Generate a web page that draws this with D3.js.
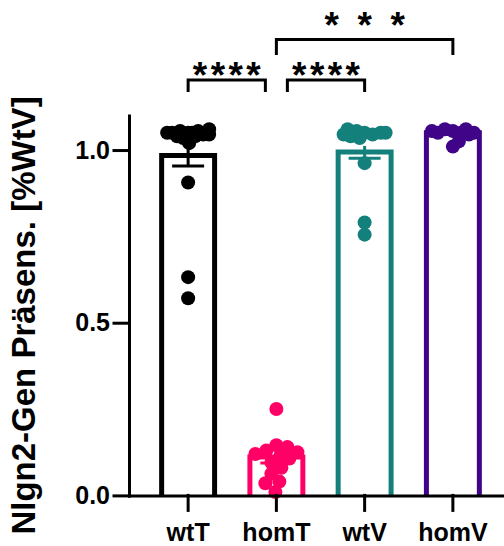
<!DOCTYPE html>
<html>
<head>
<meta charset="utf-8">
<script src="https://cdn.jsdelivr.net/npm/d3@7"></script>
<style>
  body { margin: 0; background: #fff; }
  text { font-family: "Liberation Sans", Arial, sans-serif; font-weight: bold; }
</style>
</head>
<body>
<svg id="chart"></svg>
<script>
// values
const groups = ['wtT', 'homT', 'wtV', 'homV']
const colors = ['#000000', '#FF0066', '#13807C', '#3F0487']

const wtT = [1.05, 1.04, 1.055, 1.045, 1.05, 1.06, 1.035, 1.05, 1.045, 1.055, 1.04, 1.05, 1.02, 0.906, 0.632, 0.571]
const homT = [0.25, 0.145, 0.14, 0.13, 0.125, 0.12, 0.115, 0.107, 0.095, 0.08, 0.063, 0.04, 0.035, 0.01]
const wtV = [1.05, 1.045, 1.055, 1.04, 1.05, 1.06, 1.045, 1.05, 1.035, 0.962, 0.79, 0.755]
const homV = [1.055, 1.05, 1.06, 1.05, 1.045, 1.055, 1.05, 1.06, 1.01, 1.025]

const means = [0.984, 0.111, 0.994, 1.05]
const sems = [0.03, 0.017, 0.018, 0.005]

const yTicks = [0, 0.5, 1.0]

const sigPairs = [['wtT', 'homT'], ['homT', 'wtV'], ['homT', 'homV']]
const sigLabels = ['****', '****', '***']
const sigLevels = [0, 0, 1]

const points = [wtT, homT, wtV, homV]

let W = 504, H = 546
let svg = d3.select('#chart').attr('width', W).attr('height', H)
    .style('background', '#fff')

let x = d3.scaleBand().domain(groups).range([129, 512]).paddingInner(0.4).paddingOuter(0.37)
let y = d3.scaleLinear().domain([0, 1.1]).range([495.4, 115.5])

// bars (open at the bottom, sitting on the axis)
groups.forEach((g, i) => {
    let x0 = x(g), x1 = x(g) + x.bandwidth()
    svg.append('path')
        .attr('d', `M${x0},${y(0)}V${y(means[i])}H${x1}V${y(0)}`)
        .attr('fill', 'none')
        .attr('stroke', colors[i])
        .attr('stroke-width', 5)
})

// error bars, cap only on the lower end
groups.forEach((g, i) => {
    let cx = x(g) + x.bandwidth() / 2
    let lo = y(means[i] - sems[i]), hi = y(means[i] + sems[i])
    svg.append('line')
        .attr('x1', cx).attr('x2', cx).attr('y1', lo).attr('y2', hi)
        .attr('stroke', colors[i]).attr('stroke-width', 3)
    svg.append('line')
        .attr('x1', cx - 16).attr('x2', cx + 16).attr('y1', lo).attr('y2', lo)
        .attr('stroke', colors[i]).attr('stroke-width', 3)
})

// simple beeswarm so points spread sideways like the scatter in prism
function swarm(vals, cx, maxOff, minD) {
    let placed = []
    vals.forEach(v => {
        let py = y(v), bestX = cx, bestD = -1, found = false
        for (let k = 0; k <= maxOff && !found; k++) {
            for (let s of (k ? [1, -1] : [1])) {
                let px = cx + s * k
                let d = placed.length ? d3.min(placed, p => Math.hypot(p.x - px, p.y - py)) : Infinity
                if (d >= minD) { bestX = px; found = true; break }
                if (d > bestD) { bestD = d; bestX = px }
            }
        }
        placed.push({x: bestX, y: py, v: v})
    })
    return placed
}

groups.forEach((g, i) => {
    let cx = x(g) + x.bandwidth() / 2
    let pts = swarm(points[i], cx, 21, i === 1 ? 11 : 7.5)
    svg.append('g').selectAll('circle')
        .data(pts)
        .enter()
        .append('circle')
        .attr('cx', d => d.x)
        .attr('cy', d => d.y)
        .attr('r', 7)
        .attr('fill', colors[i])
})

// axes
let yAxis = svg.append('g')
    .attr('transform', 'translate(129,0)')
    .call(d3.axisLeft(y).tickValues(yTicks).tickFormat(d3.format('.1f')).tickSize(15).tickSizeOuter(0))
let xAxis = svg.append('g')
    .attr('transform', `translate(0,${y(0)})`)
    .call(d3.axisBottom(x).tickSize(15).tickSizeOuter(0))

;[yAxis, xAxis].forEach(a => {
    a.selectAll('path, line').attr('stroke', '#000').attr('stroke-width', 3).attr('stroke-linecap', 'square')
    a.selectAll('text').attr('fill', '#000').style('font-size', '25px')
        .style('font-family', '"Liberation Sans", Arial, sans-serif').style('font-weight', 'bold')
})
yAxis.selectAll('text').attr('x', -19)
xAxis.selectAll('text').attr('y', 46).attr('dy', 0)

svg.append('text')
    .attr('transform', 'translate(35,315.5) rotate(-90)')
    .attr('text-anchor', 'middle')
    .style('font-size', '33px')
    .text('Nlgn2-Gen Präsens. [%WtV]')

// significance brackets
let levelY = [80, 39.5], legLen = [12, 15.5], starY = [68, 18], starGap = [17.8, 33]
sigPairs.forEach((pair, i) => {
    let lv = sigLevels[i]
    let xa = x(pair[0]) + x.bandwidth() / 2
    let xb = x(pair[1]) + x.bandwidth() / 2
    // lower brackets sharing a category are pulled apart a little
    sigPairs.forEach((other, j) => {
        if (j === i || sigLevels[j] !== lv) return
        if (other.includes(pair[1])) xb -= 11
        if (other.includes(pair[0])) xa += 11
    })
    let yl = levelY[lv]
    svg.append('path')
        .attr('d', `M${xa},${yl + legLen[lv]}V${yl}H${xb}V${yl + legLen[lv]}`)
        .attr('fill', 'none').attr('stroke', '#000').attr('stroke-width', 3)
    let n = sigLabels[i].length, mid = (xa + xb) / 2
    d3.range(n).forEach(k => {
        svg.append('text')
            .attr('x', mid + (k - (n - 1) / 2) * starGap[lv])
            .attr('y', starY[lv] + 20)
            .attr('text-anchor', 'middle')
            .style('font-size', '37px')
            .text('*')
    })
})
</script>
</body>
</html>
